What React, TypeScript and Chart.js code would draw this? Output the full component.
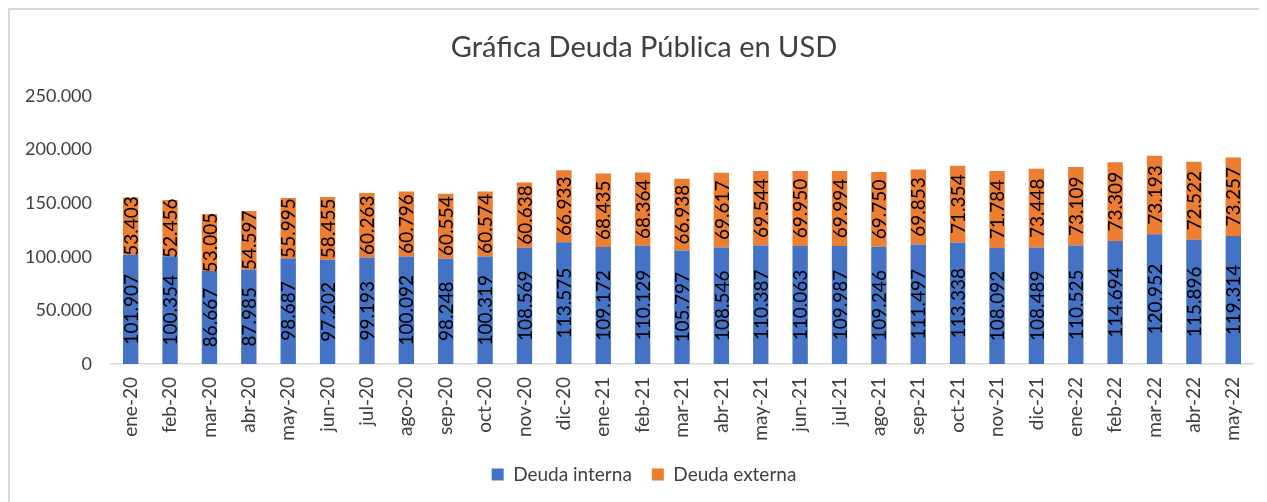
import React, { useEffect, useRef } from "react";
import { Chart, registerables } from "chart.js";

Chart.register(...registerables);

const categories = [
  "ene-20", "feb-20", "mar-20", "abr-20", "may-20", "jun-20", "jul-20", "ago-20", "sep-20", "oct-20",
  "nov-20", "dic-20", "ene-21", "feb-21", "mar-21", "abr-21", "may-21", "jun-21", "jul-21", "ago-21",
  "sep-21", "oct-21", "nov-21", "dic-21", "ene-22", "feb-22", "mar-22", "abr-22", "may-22",
];

const deudaInterna = [
  101907, 100354, 86667, 87985, 98687, 97202, 99193, 100092, 98248, 100319,
  108569, 113575, 109172, 110129, 105797, 108546, 110387, 110063, 109987, 109246,
  111497, 113338, 108092, 108489, 110525, 114694, 120952, 115896, 119314,
];

const deudaExterna = [
  53403, 52456, 53005, 54597, 55995, 58455, 60263, 60796, 60554, 60574,
  60638, 66933, 68435, 68364, 66938, 69617, 69544, 69950, 69994, 69750,
  69853, 71354, 71784, 73448, 73109, 73309, 73193, 72522, 73257,
];

const yTicks = [0, 50000, 100000, 150000, 200000, 250000];

const TITLE = "Gráfica Deuda Pública en USD";
const FONT = "Lato, 'Open Sans', sans-serif";

function fmt(v: number): string {
  if (v === 0) return "0";
  return Math.round(v).toString().replace(/\B(?=(\d{3})+(?!\d))/g, ".");
}

const dataLabelPlugin = {
  id: "dataLabels",
  afterDatasetsDraw(chart: any) {
    const ctx = chart.ctx;
    ctx.save();
    ctx.font = `19px ${FONT}`;
    ctx.fillStyle = "#000000";
    ctx.textAlign = "center";
    ctx.textBaseline = "middle";
    chart.data.datasets.forEach((ds: any, di: number) => {
      const meta = chart.getDatasetMeta(di);
      meta.data.forEach((bar: any, i: number) => {
        const cy = (bar.y + bar.base) / 2;
        ctx.save();
        ctx.translate(bar.x, cy);
        ctx.rotate(-Math.PI / 2);
        ctx.fillText(fmt(ds.data[i]), 0, 1);
        ctx.restore();
      });
    });
    ctx.restore();
  },
};

export default function App() {
  const canvasRef = useRef<HTMLCanvasElement | null>(null);

  useEffect(() => {
    document.documentElement.style.overflow = "hidden";
    const canvas = canvasRef.current;
    if (!canvas) return;
    const chart = new Chart(canvas, {
      type: "bar",
      data: {
        labels: categories,
        datasets: [
          {
            label: "Deuda interna",
            data: deudaInterna,
            backgroundColor: "#4472C4",
            barPercentage: 0.39,
            categoryPercentage: 1,
          },
          {
            label: "Deuda externa",
            data: deudaExterna,
            backgroundColor: "#ED7D31",
            barPercentage: 0.39,
            categoryPercentage: 1,
          },
        ],
      },
      options: {
        animation: false,
        responsive: false,
        maintainAspectRatio: false,
        layout: { padding: { left: 0, right: 0, top: 0, bottom: 0 } },
        plugins: {
          title: {
            display: true,
            text: TITLE,
            color: "#404040",
            font: { family: FONT, size: 29, weight: "normal" },
            padding: { top: 20, bottom: 31 },
          },
          legend: {
            display: true,
            position: "bottom",
            labels: {
              color: "#404040",
              font: { family: FONT, size: 19 },
              boxWidth: 12,
              boxHeight: 12,
              padding: 20,
            },
          },
          tooltip: { enabled: false },
        },
        scales: {
          x: {
            stacked: true,
            grid: { display: false, drawTicks: false },
            border: { display: true, color: "#d9d9d9", width: 1.5 },
            ticks: {
              color: "#404040",
              font: { family: FONT, size: 19 },
              minRotation: 90,
              maxRotation: 90,
              padding: 13,
              autoSkip: false,
            },
            afterFit(scale: any) {
              scale.height = 81;
            },
          },
          y: {
            stacked: true,
            min: 0,
            max: 250000,
            grid: { display: false, drawTicks: false },
            border: { display: false },
            afterBuildTicks(scale: any) {
              scale.ticks = yTicks.map((v) => ({ value: v }));
            },
            ticks: {
              color: "#404040",
              font: { family: FONT, size: 18 },
              padding: 19,
              callback: (v: any) => fmt(Number(v)),
            },
            afterFit(scale: any) {
              scale.width = 101;
            },
          },
          yRight: {
            position: "right",
            display: true,
            grid: { display: false, drawTicks: false },
            border: { display: false },
            ticks: { display: false },
            afterFit(scale: any) {
              scale.width = 25;
            },
          },
        },
      },
      plugins: [dataLabelPlugin],
    });
    return () => chart.destroy();
  }, []);

  return (
    <div
      style={{
        width: 1256,
        height: 500,
        border: "2px solid #d9d9d9",
        boxSizing: "border-box",
        background: "#ffffff",
        overflow: "visible",
      }}
    >
      <canvas ref={canvasRef} width={1268} height={484} style={{ display: "block" }} />
    </div>
  );
}
